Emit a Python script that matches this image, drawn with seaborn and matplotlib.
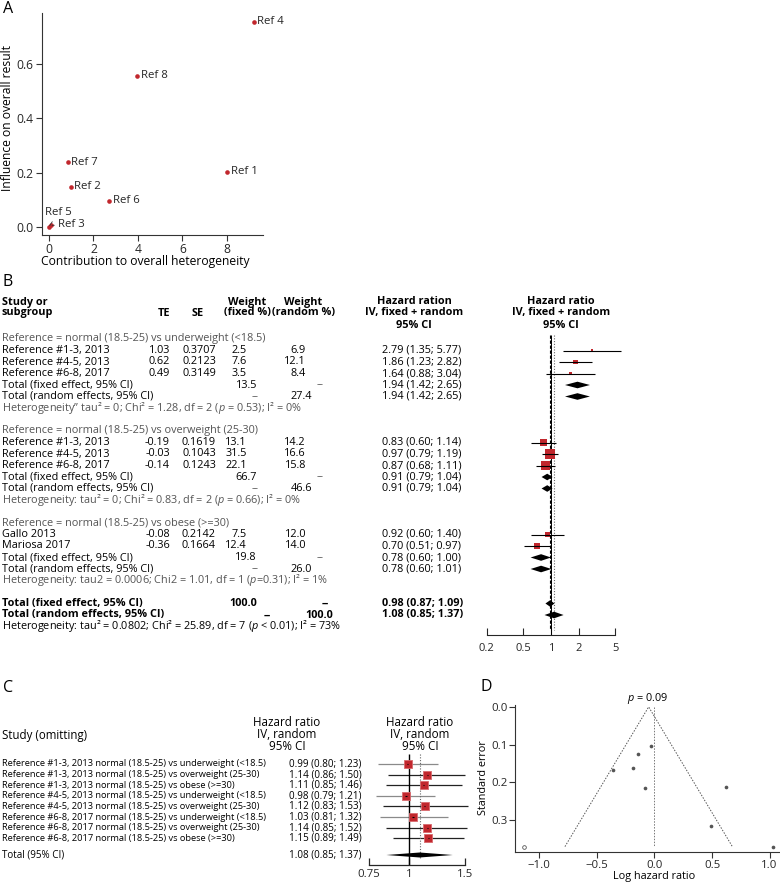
import numpy as np
import pandas as pd
import matplotlib
matplotlib.use('Agg')
import matplotlib.pyplot as plt
import seaborn as sns

# ---------------- data ----------------
# panel A (Baujat plot)
ref_labels = ['Ref 1', 'Ref 2', 'Ref 3', 'Ref 4', 'Ref 5', 'Ref 6', 'Ref 7', 'Ref 8']
het_contrib = [8.01, 0.99, 0.08, 9.21, 0.0, 2.71, 0.84, 3.96]
influence = [0.204, 0.148, 0.006, 0.756, 0.001, 0.097, 0.238, 0.557]

# panel B (subgroup forest plot)
subgroups = ['Reference = normal (18.5-25) vs underweight (<18.5)',
             'Reference = normal (18.5-25) vs overweight (25-30)',
             'Reference = normal (18.5-25) vs obese (>=30)']
study_names = ['Reference #1-3, 2013', 'Reference #4-5, 2013', 'Reference #6-8, 2017',
               'Reference #1-3, 2013', 'Reference #4-5, 2013', 'Reference #6-8, 2017',
               'Gallo 2013', 'Mariosa 2017']
study_group = [0, 0, 0, 1, 1, 1, 2, 2]
te = [1.03, 0.62, 0.49, -0.19, -0.03, -0.14, -0.08, -0.36]
se = [0.3707, 0.2123, 0.3149, 0.1619, 0.1043, 0.1243, 0.2142, 0.1664]
w_fixed = [2.5, 7.6, 3.5, 13.1, 31.5, 22.1, 7.5, 12.4]
w_random = [6.9, 12.1, 8.4, 14.2, 16.6, 15.8, 12.0, 14.0]
hr = [2.79, 1.86, 1.64, 0.83, 0.97, 0.87, 0.92, 0.70]
hr_lo = [1.35, 1.23, 0.88, 0.60, 0.79, 0.68, 0.60, 0.51]
hr_hi = [5.77, 2.82, 3.04, 1.14, 1.19, 1.11, 1.40, 0.97]
sub_fixed_w = [13.5, 66.7, 19.8]
sub_random_w = [27.4, 46.6, 26.0]
sub_fixed_hr = [1.94, 0.91, 0.78]
sub_fixed_lo = [1.42, 0.79, 0.60]
sub_fixed_hi = [2.65, 1.04, 1.00]
sub_random_hr = [1.94, 0.91, 0.78]
sub_random_lo = [1.42, 0.79, 0.60]
sub_random_hi = [2.65, 1.04, 1.01]
sub_het = ['Heterogeneity\u201d tau\u00b2 = 0; Chi\u00b2 = 1.28, df = 2 ($p$ = 0.53); I\u00b2 = 0%',
           'Heterogeneity: tau\u00b2 = 0; Chi\u00b2 = 0.83, df = 2 ($p$ = 0.66); I\u00b2 = 0%',
           'Heterogeneity: tau2 = 0.0006; Chi2 = 1.01, df = 1 ($p$=0.31); I\u00b2 = 1%']
overall_fixed = [0.98, 0.87, 1.09]
overall_random = [1.08, 0.85, 1.37]
overall_het = 'Heterogeneity: tau\u00b2 = 0.0802; Chi\u00b2 = 25.89, df = 7 ($p$ < 0.01); I\u00b2 = 73%'

# panel C (leave-one-out)
omit_labels = ['Reference #1-3, 2013 normal (18.5-25) vs underweight (<18.5)',
               'Reference #1-3, 2013 normal (18.5-25) vs overweight (25-30)',
               'Reference #1-3, 2013 normal (18.5-25) vs obese (>=30)',
               'Reference #4-5, 2013 normal (18.5-25) vs underweight (<18.5)',
               'Reference #4-5, 2013 normal (18.5-25) vs overweight (25-30)',
               'Reference #6-8, 2017 normal (18.5-25) vs underweight (<18.5)',
               'Reference #6-8, 2017 normal (18.5-25) vs overweight (25-30)',
               'Reference #6-8, 2017 normal (18.5-25) vs obese (>=30)']
omit_hr = [0.99, 1.14, 1.11, 0.98, 1.12, 1.03, 1.14, 1.15]
omit_lo = [0.80, 0.86, 0.85, 0.79, 0.83, 0.81, 0.85, 0.89]
omit_hi = [1.23, 1.50, 1.46, 1.21, 1.53, 1.32, 1.52, 1.49]
omit_total = [1.08, 0.85, 1.37]

# panel D (funnel plot)
funnel_center = -0.05
filled_te = [-1.13]
filled_se = [0.3707]
egger_p = '0.09'

# ---------------- style ----------------
sns.set_style('ticks')
plt.rcParams['font.family'] = ['Open Sans', 'DejaVu Sans']
plt.rcParams['mathtext.fontset'] = 'custom'
plt.rcParams['mathtext.rm'] = 'Open Sans'
plt.rcParams['mathtext.it'] = 'Open Sans:italic'

RED = '#c1272d'
GREY = '#555555'
FS_B = 7.8
W, H = 780, 883

fig = plt.figure(figsize=(W / 100, H / 100), dpi=100)


def px_axes(l, t, r, b):
    return fig.add_axes([l / W, 1 - b / H, (r - l) / W, (b - t) / H])


# text layer in pixel coordinates
ax_t = px_axes(0, 0, W, H)
ax_t.set_xlim(0, W)
ax_t.set_ylim(H, 0)
ax_t.axis('off')


def txt(x, y, s, ha='left', size=FS_B, color='black', weight='normal', **kw):
    ax_t.text(x, y, s, ha=ha, va='center', fontsize=size, color=color, fontweight=weight, **kw)


# panel letters
for letter, (lx, ly) in zip('ABCD', [(3, 9), (3, 282), (3, 688), (481, 687)]):
    txt(lx, ly, letter, size=11.5)

# ---------------- panel A ----------------
axA = px_axes(42, 13, 263, 235)
dfA = pd.DataFrame({'ref': ref_labels, 'het': het_contrib, 'infl': influence})
sns.scatterplot(data=dfA, x='het', y='infl', color=RED, s=11, linewidth=0, ax=axA)
axA.set_xlim(-0.31, 9.62)
axA.set_ylim(-0.029, 0.788)
axA.set_xticks([0, 2, 4, 6, 8])
axA.set_yticks([0.0, 0.2, 0.4, 0.6])
axA.set_yticklabels(['0.0', '0.2', '0.4', '0.6'])
axA.set_xlabel('')
axA.set_ylabel('')
axA.tick_params(labelsize=8.7, length=4, width=0.8, color='#333333', pad=2)
for sp in ['top', 'right']:
    axA.spines[sp].set_visible(False)
for sp in ['left', 'bottom']:
    axA.spines[sp].set_color('#333333')
    axA.spines[sp].set_linewidth(0.8)
for _, r in dfA.iterrows():
    if r['ref'] == 'Ref 5':
        axA.annotate(r['ref'], (r['het'], r['infl']), xytext=(-3, 10), textcoords='offset points',
                     ha='left', va='center', fontsize=8.2,
                     arrowprops=dict(arrowstyle='-', color='#333333', lw=0.6, shrinkA=0, shrinkB=1))
    elif r['ref'] == 'Ref 3':
        axA.annotate(r['ref'], (r['het'], r['infl']), xytext=(5, 1), textcoords='offset points',
                     ha='left', va='center', fontsize=8.2,
                     arrowprops=dict(arrowstyle='-', color='#333333', lw=0.6, shrinkA=0, shrinkB=1))
    else:
        axA.annotate(r['ref'], (r['het'], r['infl']), xytext=(2.5, 0), textcoords='offset points',
                     ha='left', va='center', fontsize=8.2)
txt(145, 262, 'Contribution to overall heterogeneity', ha='center', size=8.7)
txt(8, 118, 'Influence on overall result', ha='center', size=8.7, rotation=90)

# ---------------- panel B ----------------
txt(2, 302, 'Study or', weight='bold')
txt(2, 313, 'subgroup', weight='bold')
txt(164, 313, 'TE', ha='center', weight='bold')
txt(198, 313, 'SE', ha='center', weight='bold')
txt(247, 302, 'Weight', ha='center', weight='bold')
txt(247, 313, '(fixed %)', ha='center', weight='bold')
txt(303, 302, 'Weight', ha='center', weight='bold')
txt(303, 313, '(random %)', ha='center', weight='bold')
for dy, s in zip([302, 313, 325], ['Hazard ration', 'IV, fixed + random', '95% CI']):
    txt(414, dy, s, ha='center', weight='bold')
for dy, s in zip([302, 313, 325], ['Hazard ratio', 'IV, fixed + random', '95% CI']):
    txt(561, dy, s, ha='center', weight='bold')


def Y(k):
    return 339 + 11.5 * k


def ci_text(m, lo, hi):
    return f'{m:.2f} ({lo:.2f}; {hi:.2f})'


study_y = []
diamonds = []
k = 0
for g, gname in enumerate(subgroups):
    txt(2, Y(k), gname, color=GREY)
    k += 1
    for i in [j for j in range(len(study_names)) if study_group[j] == g]:
        y = Y(k)
        txt(2, y, study_names[i])
        txt(170, y, f'{te[i]:.2f}', ha='right')
        txt(216, y, f'{se[i]:.4f}', ha='right')
        txt(247, y, f'{w_fixed[i]:.1f}', ha='right')
        txt(306, y, f'{w_random[i]:.1f}', ha='right')
        txt(382, y, ci_text(hr[i], hr_lo[i], hr_hi[i]))
        study_y.append(y)
        k += 1
    y = Y(k)
    txt(2, y, 'Total (fixed effect, 95% CI)')
    txt(257, y, f'{sub_fixed_w[g]:.1f}', ha='right')
    txt(320, y, '--', ha='center', color=GREY)
    txt(382, y, ci_text(sub_fixed_hr[g], sub_fixed_lo[g], sub_fixed_hi[g]))
    diamonds.append((sub_fixed_hr[g], sub_fixed_lo[g], sub_fixed_hi[g], y))
    k += 1
    y = Y(k)
    txt(2, y, 'Total (random effects, 95% CI)')
    txt(255, y, '--', ha='center', color=GREY)
    txt(312, y, f'{sub_random_w[g]:.1f}', ha='right')
    txt(382, y, ci_text(sub_random_hr[g], sub_random_lo[g], sub_random_hi[g]))
    diamonds.append((sub_random_hr[g], sub_random_lo[g], sub_random_hi[g], y))
    k += 1
    txt(2, Y(k), sub_het[g], color=GREY)
    k += 2

y = Y(k)
txt(2, y, 'Total (fixed effect, 95% CI)', weight='bold')
txt(257, y, '100.0', ha='right', weight='bold')
txt(325, y, '--', ha='center', weight='bold')
txt(382, y, ci_text(*overall_fixed), weight='bold')
diamonds.append((overall_fixed[0], overall_fixed[1], overall_fixed[2], y))
k += 1
y = Y(k)
txt(2, y, 'Total (random effects, 95% CI)', weight='bold')
txt(267, y, '--', ha='center', weight='bold')
txt(333, y, '100.0', ha='right', weight='bold')
txt(382, y, ci_text(*overall_random), weight='bold')
diamonds.append((overall_random[0], overall_random[1], overall_random[2], y))
k += 1
txt(2, Y(k), overall_het)

# forest for B (y axis in pixel rows)
axB = px_axes(470, 330, 640, 635)
axB.set_xscale('log')
axB.set_xlim(10 ** ((470 - 551) / 92), 10 ** ((640 - 551) / 92))
axB.set_ylim(635, 330)
dfB = pd.DataFrame({'hr': hr, 'y': study_y, 'w': w_fixed})
sns.scatterplot(data=dfB, x='hr', y='y', size='w', sizes=(1.68 * min(w_fixed), 1.68 * max(w_fixed)),
                size_norm=(min(w_fixed), max(w_fixed)), marker='s', color=RED, linewidth=0,
                legend=False, ax=axB, zorder=3)
axB.hlines(study_y, hr_lo, hr_hi, color='black', lw=0.8, zorder=4)
for m, lo, hi, yy in diamonds:
    axB.fill([lo, m, hi, m], [yy, yy - 3.3, yy, yy + 3.3], color='black', lw=0, zorder=4)
axB.vlines(1, 335, 635, color='black', lw=0.7, zorder=2)
axB.vlines(overall_fixed[0], 335, 630, color='black', lw=0.8, linestyles=(0, (3, 1.5)), zorder=2)
axB.vlines(overall_random[0], 335, 630, color='#666666', lw=0.8, linestyles=(0, (1, 1.5)), zorder=2)
axB.set_xticks([0.2, 0.5, 1, 2, 5])
axB.set_xticklabels(['0.2', '0.5', '1', '2', '5'])
axB.minorticks_off()
axB.set_yticks([])
axB.set_xlabel('')
axB.set_ylabel('')
for sp in ['top', 'right', 'left']:
    axB.spines[sp].set_visible(False)
axB.spines['bottom'].set_bounds(0.2, 5)
axB.spines['bottom'].set_linewidth(0.8)
axB.tick_params(axis='x', direction='in', length=5, width=0.8, labelsize=8, pad=6)
axB.patch.set_alpha(0)

# ---------------- panel C ----------------
txt(2, 735, 'Study (omitting)', size=8.3)
for dy, s in zip([723, 735, 747], ['Hazard ratio', 'IV, random', '95% CI']):
    txt(287, dy, s, ha='center', size=8.4)
    txt(420, dy, s, ha='center', size=8.4)
omit_y = [764 + 10.6 * i for i in range(len(omit_labels))]
for lab, m, lo, hi, yy in zip(omit_labels, omit_hr, omit_lo, omit_hi, omit_y):
    txt(2, yy, lab, size=6.7)
    txt(289, yy, ci_text(m, lo, hi), size=7.1)
total_y = 855
txt(2, total_y, 'Total (95% CI)', size=7.1)
txt(289, total_y, ci_text(*omit_total), size=7.1)

axC = px_axes(360, 750, 480, 865)
axC.set_xscale('log')
axC.set_xlim(10 ** ((360 - 409) / 320), 10 ** ((480 - 409) / 320))
axC.set_ylim(865, 750)
line_cols = ['#8a8a8a' if 'underweight' in s else '#222222' for s in omit_labels]
axC.hlines(omit_y, omit_lo, omit_hi, colors=line_cols, lw=0.9, zorder=2)
dfC = pd.DataFrame({'hr': omit_hr, 'y': omit_y})
sns.scatterplot(data=dfC, x='hr', y='y', marker='s', s=26, color=RED, edgecolor='#d86a6e',
                linewidth=0.6, ax=axC, zorder=3)
axC.hlines(omit_y, np.array(omit_hr) * 0.995, np.array(omit_hr) * 1.005, color='black', lw=0.8, zorder=4)
axC.fill([omit_total[1], omit_total[0], omit_total[2], omit_total[0]],
         [total_y, total_y - 2.5, total_y, total_y + 2.5], color='black', lw=0, zorder=4)
axC.vlines(1, 754, 865, color='black', lw=1.0, zorder=2)
axC.vlines(omit_total[0], 754, 858, color='#666666', lw=0.8, linestyles=(0, (1, 1.5)), zorder=2)
axC.set_xticks([0.75, 1, 1.5])
axC.set_xticklabels(['0.75', '1', '1.5'])
axC.minorticks_off()
axC.set_yticks([])
axC.set_xlabel('')
axC.set_ylabel('')
for sp in ['top', 'right', 'left']:
    axC.spines[sp].set_visible(False)
axC.spines['bottom'].set_bounds(0.75, 1.5)
axC.spines['bottom'].set_linewidth(0.9)
axC.tick_params(axis='x', direction='in', length=5, width=0.9, labelsize=8.2, pad=3)
axC.patch.set_alpha(0)

# ---------------- panel D ----------------
axD = px_axes(515, 705, 780, 852)
se_max = max(se)
axD.plot([funnel_center - 1.96 * se_max, funnel_center, funnel_center + 1.96 * se_max],
         [se_max, 0, se_max], color='#555555', lw=0.7, linestyle=(0, (1.5, 1.5)))
axD.plot([0, 0], [0, se_max], color='#777777', lw=0.7, linestyle=(0, (1.5, 1.5)))
dfD = pd.DataFrame({'te': te, 'se': se})
sns.scatterplot(data=dfD, x='te', y='se', color='#555555', s=7, linewidth=0, ax=axD, zorder=3)
axD.scatter(filled_te, filled_se, s=7, facecolor='white', edgecolor='#555555', linewidth=0.6, zorder=3)
axD.set_xlim(-1.21, 1.09)
axD.set_ylim(0.385, -0.005)
axD.set_xticks([-1.0, -0.5, 0.0, 0.5, 1.0])
axD.set_yticks([0.0, 0.1, 0.2, 0.3])
axD.set_xlabel('')
axD.set_ylabel('')
axD.tick_params(labelsize=8.2, length=4, width=0.8, color='#333333', pad=1.5)
for sp in ['top', 'right']:
    axD.spines[sp].set_visible(False)
for sp in ['left', 'bottom']:
    axD.spines[sp].set_color('#333333')
    axD.spines[sp].set_linewidth(0.8)
txt(654, 877, 'Log hazard ratio', ha='center', size=7.8)
txt(484, 778, 'Standard error', ha='center', size=7.8, rotation=90)
txt(648, 698, f'$p$ = {egger_p}', ha='center', size=7.8)

fig.savefig('out.png', dpi=100)
